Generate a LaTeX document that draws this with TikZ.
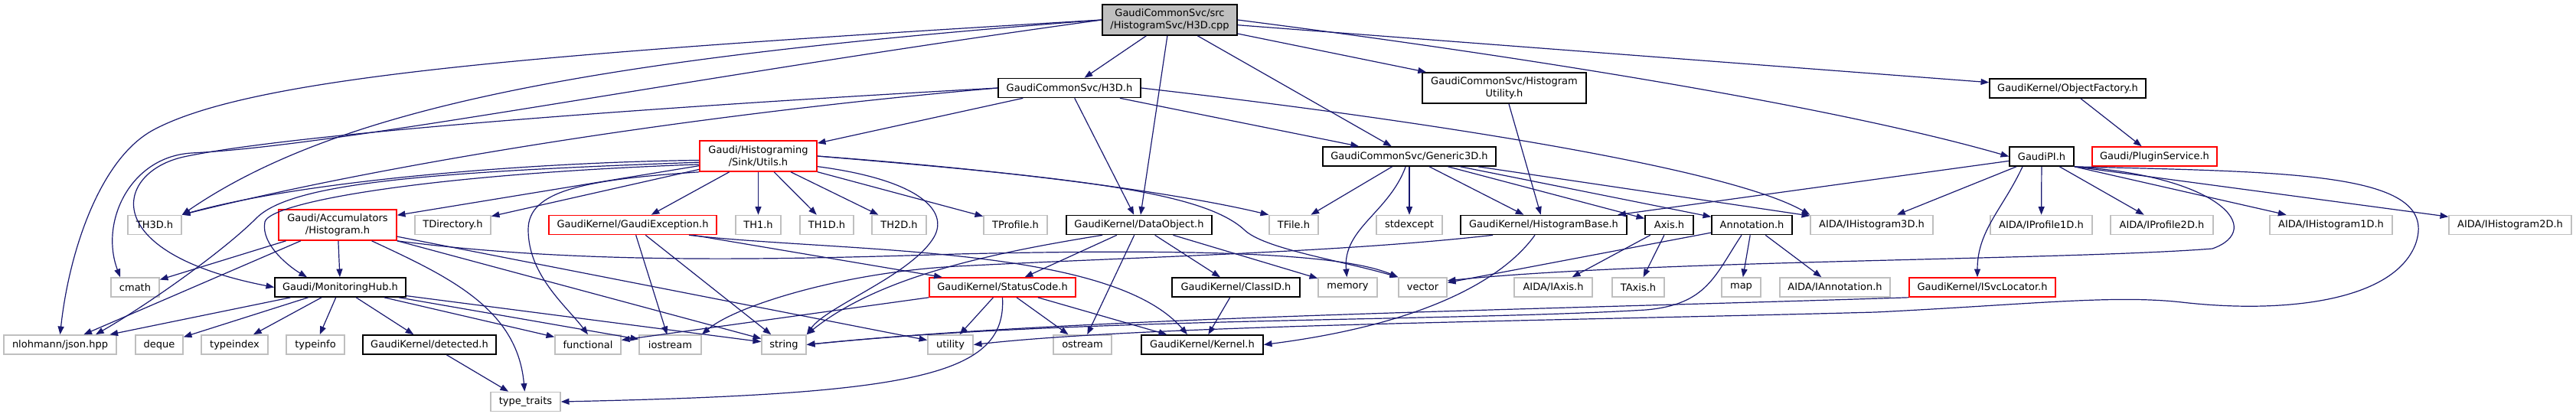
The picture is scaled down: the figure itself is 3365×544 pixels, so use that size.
\documentclass[tikz,border=0pt]{standalone}
\usepackage{fontspec}
\setmainfont{DejaVu Sans}
\usetikzlibrary{arrows.meta}
\definecolor{edgeblue}{HTML}{191970}
\definecolor{sysgray}{HTML}{BFBFBF}
\definecolor{cutred}{HTML}{FF0000}

\begin{document}
\begin{tikzpicture}[x=0.75pt,y=-0.75pt,
  hdr/.style={rectangle,draw,line width=1.2pt,inner sep=1.5pt,minimum height=18.75pt,
    font=\fontsize{9.75}{12}\selectfont,align=center},
  docfile/.style={hdr,draw=black},
  sysfile/.style={hdr,draw=sysgray},
  cutfile/.style={hdr,draw=cutred},
  rootfile/.style={hdr,draw=black,fill=sysgray},
  boxw/.style={minimum width=#1*0.75pt},
  tall/.style={minimum height=30pt},
  inc/.style={draw=edgeblue,line width=0.9pt,-{Triangle[length=8pt,width=6pt]}}]
\useasboundingbox (0,0) rectangle (3365,544);

\node[rootfile,boxw=176,tall] (cpp) at (1528,26) {GaudiCommonSvc/src\\/HistogramSvc/H3D.cpp};

\node[docfile,boxw=186] (h3d) at (1397,115) {GaudiCommonSvc/H3D.h};
\node[docfile,boxw=214,tall] (histutil) at (1965,115) {GaudiCommonSvc/Histogram\\Utility.h};
\node[docfile,boxw=204] (objfact) at (2701,115.5) {GaudiKernel/ObjectFactory.h};

\node[cutfile,boxw=153,tall] (sinkutils) at (990.5,204) {Gaudi/Histograming\\/Sink/Utils.h};
\node[docfile,boxw=226] (generic) at (1841,204.5) {GaudiCommonSvc/Generic3D.h};
\node[docfile,boxw=84] (gaudipi) at (2667,204.5) {GaudiPI.h};
\node[cutfile,boxw=163] (plugin) at (2814.5,204.5) {Gaudi/PluginService.h};

\node[sysfile,boxw=70] (th3d) at (202,294) {TH3D.h};
\node[cutfile,boxw=154,tall] (acchist) at (441,294) {Gaudi/Accumulators\\/Histogram.h};
\node[sysfile,boxw=99] (tdir) at (591.5,294) {TDirectory.h};
\node[cutfile,boxw=219] (gexc) at (826.5,294) {GaudiKernel/GaudiException.h};
\node[sysfile,boxw=59] (th1) at (990.5,294) {TH1.h};
\node[sysfile,boxw=70] (th1d) at (1080,294) {TH1D.h};
\node[sysfile,boxw=71] (th2d) at (1174.5,294) {TH2D.h};
\node[sysfile,boxw=83] (tprof) at (1326.5,294) {TProfile.h};
\node[docfile,boxw=190] (dataobj) at (1488,294) {GaudiKernel/DataObject.h};
\node[sysfile,boxw=64] (tfile) at (1690,294) {TFile.h};
\node[sysfile,boxw=86] (stdexc) at (1841,294) {stdexcept};
\node[docfile,boxw=217] (histbase) at (2016.5,294) {GaudiKernel/HistogramBase.h};
\node[docfile,boxw=63] (axis) at (2180.5,294) {Axis.h};
\node[docfile,boxw=105] (annot) at (2288.5,294) {Annotation.h};
\node[sysfile,boxw=160] (aih3d) at (2445,294) {AIDA/IHistogram3D.h};
\node[sysfile,boxw=133] (aip1d) at (2666.5,294) {AIDA/IProfile1D.h};
\node[sysfile,boxw=134] (aip2d) at (2824,294) {AIDA/IProfile2D.h};
\node[sysfile,boxw=160] (aih1d) at (3045,294) {AIDA/IHistogram1D.h};
\node[sysfile,boxw=160] (aih2d) at (3279,294) {AIDA/IHistogram2D.h};

\node[sysfile,boxw=63] (cmath) at (176.5,375.5) {cmath};
\node[docfile,boxw=171] (monhub) at (444.5,375.5) {Gaudi/MonitoringHub.h};
\node[cutfile,boxw=191] (statcode) at (1309.5,375.5) {GaudiKernel/StatusCode.h};
\node[docfile,boxw=167] (classid) at (1614.5,375.5) {GaudiKernel/ClassID.h};
\node[sysfile,boxw=77] (memory) at (1760.5,375.5) {memory};
\node[sysfile,boxw=63] (vector) at (1858.5,375.5) {vector};
\node[sysfile,boxw=102] (aiaxis) at (2029,375.5) {AIDA/IAxis.h};
\node[sysfile,boxw=68] (taxis) at (2140,375.5) {TAxis.h};
\node[sysfile,boxw=51] (map) at (2274.5,375.5) {map};
\node[sysfile,boxw=144] (aiannot) at (2397,375.5) {AIDA/IAnnotation.h};
\node[cutfile,boxw=191] (svcloc) at (2589.5,375.5) {GaudiKernel/ISvcLocator.h};

\node[sysfile,boxw=147] (json) at (78.5,450.5) {nlohmann/json.hpp};
\node[sysfile,boxw=62] (deque) at (208,450.5) {deque};
\node[sysfile,boxw=87] (typeidx) at (306.5,450.5) {typeindex};
\node[sysfile,boxw=76] (typeinf) at (412,450.5) {typeinfo};
\node[docfile,boxw=174] (detected) at (561,450.5) {GaudiKernel/detected.h};
\node[sysfile,boxw=86] (functional) at (768,450.5) {functional};
\node[sysfile,boxw=81] (iostream) at (875.5,450.5) {iostream};
\node[sysfile,boxw=58] (string) at (1024,450.5) {string};
\node[sysfile,boxw=59] (utility) at (1241.5,450.5) {utility};
\node[sysfile,boxw=76] (ostream) at (1414,450.5) {ostream};
\node[docfile,boxw=159] (kernel) at (1570.5,450.5) {GaudiKernel/Kernel.h};

\node[sysfile,boxw=91] (typetr) at (686.5,525) {type\_traits};

\draw[inc] (cpp) -- (h3d);
\draw[inc] (cpp) -- (dataobj);
\draw[inc] (cpp) -- (generic);
\draw[inc] (cpp) -- (histutil);
\draw[inc] (cpp) -- (objfact);
\draw[inc] (cpp.east) .. controls (2000,75) and (2400,140) .. (gaudipi.west);
\draw[inc] (cpp.west) .. controls (700,70) and (330,100) .. (200,170) .. controls (130,208) and (90,330) .. (json.north);
\draw[inc] (cpp.west) .. controls (800,75) and (450,135) .. (th3d.north east);
\draw[inc] (cpp.west) .. controls (900,100) and (450,190) .. (250,200) .. controls (170,205) and (130,290) .. (cmath.north -| 157,0);

\draw[inc] (h3d) -- (sinkutils);
\draw[inc] (h3d) -- (dataobj);
\draw[inc] (h3d) -- (generic);
\draw[inc] (h3d.east) .. controls (1800,150) and (2250,215) .. (aih3d.north west);
\draw[inc] (h3d.west) .. controls (900,150) and (500,215) .. (th3d.north east);
\draw[inc] (h3d.west) .. controls (850,140) and (380,175) .. (240,205) .. controls (150,225) and (125,330) .. (monhub.west);

\draw[inc] (sinkutils.184) .. controls (700,212) and (400,235) .. (th3d.north east);
\draw[inc] (sinkutils) -- (acchist);
\draw[inc] (sinkutils) -- (tdir);
\draw[inc] (sinkutils) -- (gexc);
\draw[inc] (sinkutils) -- (th1);
\draw[inc] (sinkutils) -- (th1d);
\draw[inc] (sinkutils) -- (th2d);
\draw[inc] (sinkutils) -- (tprof);
\draw[inc] (sinkutils.east) .. controls (1350,225) and (1550,255) .. (tfile.north west);
\draw[inc] (sinkutils.east) .. controls (1400,232) and (1570,250) .. (1625,300) .. controls (1650,325) and (1750,340) .. (vector.north west);
\draw[inc] (sinkutils.-10) .. controls (1200,235) and (1240,275) .. (1220,310) .. controls (1190,360) and (1080,400) .. (string.north east);
\draw[inc] (sinkutils.south west) .. controls (760,235) and (690,250) .. (690,300) .. controls (690,360) and (740,400) .. (functional.north);
\draw[inc] (sinkutils.186) .. controls (550,225) and (380,240) .. (335,285) .. controls (290,330) and (190,400) .. (json.north -| 125,0);
\draw[inc] (sinkutils.188) .. controls (550,228) and (352,265) .. (346,290) .. controls (340,320) and (380,350) .. (monhub.north -| 401,0);

\draw[inc] (acchist) -- (cmath);
\draw[inc] (acchist) -- (json);
\draw[inc] (acchist) -- (monhub);
\draw[inc] (acchist) to[out=-25,in=95] (typetr);
\draw[inc] (acchist.south east) .. controls (750,345) and (1000,340) .. (1250,332) .. controls (1550,325) and (1750,330) .. (vector.north west);
\draw[inc] (acchist) -- (utility);
\draw[inc] (acchist) -- (string);

\draw[inc] (monhub) -- (json);
\draw[inc] (monhub) -- (deque);
\draw[inc] (monhub) -- (typeidx);
\draw[inc] (monhub) -- (typeinf);
\draw[inc] (monhub) -- (detected);
\draw[inc] (monhub) -- (functional);
\draw[inc] (monhub) -- (iostream);
\draw[inc] (monhub) -- (string);
\draw[inc] (detected) -- (typetr);

\draw[inc] (gexc) -- (iostream);
\draw[inc] (gexc) -- (string);
\draw[inc] (gexc) -- (statcode);
\draw[inc] (gexc.south -| 900,0) .. controls (1100,330) and (1450,320) .. (kernel.north -| 1551,0);

\draw[inc] (dataobj.south -| 1440,0) .. controls (1300,330) and (1150,360) .. (string.north east);
\draw[inc] (dataobj) -- (statcode);
\draw[inc] (dataobj) -- (ostream);
\draw[inc] (dataobj) -- (classid);
\draw[inc] (dataobj) -- (memory);

\draw[inc] (statcode) -- (functional);
\draw[inc] (statcode) -- (utility);
\draw[inc] (statcode) -- (ostream);
\draw[inc] (statcode) -- (kernel);
\draw[inc] (statcode.south) .. controls (1315,490) and (1200,515) .. (typetr.east);
\draw[inc] (classid) -- (kernel);

\draw[inc] (generic) -- (tfile);
\draw[inc] (generic) to[out=-110,in=95] (memory);
\draw[inc] (generic) -- (stdexc);
\draw[inc] (generic) -- (histbase);
\draw[inc] (generic) -- (axis);
\draw[inc] (generic) -- (annot);
\draw[inc] (generic) -- (aih3d);
\draw[inc] (histutil) -- (histbase);

\draw[inc] (histbase.south -| 1950,0) .. controls (1750,330) and (1500,335) .. (1250,348) .. controls (1100,356) and (960,400) .. (iostream.north east);
\draw[inc] (histbase.south -| 2005,0) .. controls (1960,370) and (1850,425) .. (kernel.east);

\draw[inc] (axis) -- (aiaxis);
\draw[inc] (axis) -- (taxis);
\draw[inc] (annot) -- (vector);
\draw[inc] (annot) -- (map);
\draw[inc] (annot) -- (aiannot);
\draw[inc] (annot.south -| 2275,0) .. controls (2240,360) and (2230,398) .. (2150,405) .. controls (1900,420) and (1400,415) .. (string.east);

\draw[inc] (objfact) -- (plugin);

\draw[inc] (gaudipi) -- (histbase);
\draw[inc] (gaudipi) -- (aih3d);
\draw[inc] (gaudipi) -- (aip1d);
\draw[inc] (gaudipi) -- (aip2d);
\draw[inc] (gaudipi.south east) -- (aih1d);
\draw[inc] (gaudipi.south east) -- (aih2d);
\draw[inc] (gaudipi.south -| 2642,0) to[out=-115,in=90] (svcloc.north -| 2583,0);
\draw[inc] (gaudipi.south east) .. controls (2900,230) and (2960,300) .. (2890,325) .. controls (2700,340) and (2150,340) .. (vector.15);
\draw[inc] (gaudipi.south east) .. controls (3000,225) and (3190,225) .. (3155,320) .. controls (3125,395) and (2980,410) .. (2850,395) .. controls (2760,385) and (2650,398) .. (2450,408) .. controls (2000,420) and (1500,425) .. (utility.east);

\draw[inc] (svcloc.south west) .. controls (2000,405) and (1400,415) .. (string.east);
\end{tikzpicture}
\end{document}
